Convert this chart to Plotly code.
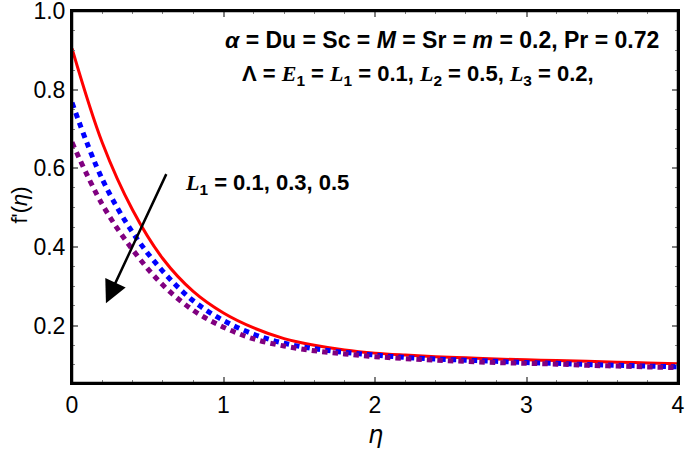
import plotly.graph_objects as go

eta = [0, 0.2, 0.4, 0.6, 0.8, 1.0, 1.2, 1.4, 1.6, 1.8, 2.0, 2.2, 2.4, 2.6, 2.8, 3.0, 3.2, 3.4, 3.6, 3.8, 4.0]
f_L1_01 = [0.905, 0.665, 0.494, 0.370, 0.287, 0.232, 0.194, 0.167, 0.150, 0.138, 0.130, 0.125, 0.121, 0.118, 0.115, 0.113, 0.111, 0.109, 0.107, 0.105, 0.103]
f_L1_03 = [0.767, 0.572, 0.437, 0.338, 0.263, 0.213, 0.178, 0.155, 0.141, 0.132, 0.125, 0.119, 0.115, 0.112, 0.109, 0.106, 0.104, 0.101, 0.099, 0.097, 0.095]
f_L1_05 = [0.666, 0.508, 0.393, 0.303, 0.239, 0.196, 0.166, 0.148, 0.136, 0.128, 0.121, 0.116, 0.112, 0.109, 0.106, 0.104, 0.102, 0.099, 0.097, 0.095, 0.093]

x_ticks = [0, 1, 2, 3, 4]
y_ticks = [0.2, 0.4, 0.6, 0.8, 1.0]
y_tick_labels = ["0.2", "0.4", "0.6", "0.8", "1.0"]

SERIF = "'Liberation Serif', 'DejaVu Serif', serif"
SANS = "Arial, 'Liberation Sans', sans-serif"

fig = go.Figure()
fig.add_trace(go.Scatter(x=eta, y=f_L1_01, mode="lines", line=dict(color="#FF0000", width=3, shape="spline"), showlegend=False))
fig.add_trace(go.Scatter(x=eta, y=f_L1_03, mode="lines", line=dict(color="#0000FF", width=5, dash="5.5px,5px", shape="spline"), showlegend=False))
fig.add_trace(go.Scatter(x=eta, y=f_L1_05, mode="lines", line=dict(color="#800080", width=5, dash="5.5px,5px", shape="spline"), showlegend=False))

def it(s):
    return f"<span style=\"font-family:{SERIF}\"><i>{s}</i></span>"

row1 = "<b><i>α</i> = Du = Sc = <i>M</i> = Sr = <i>m</i> = 0.2, Pr = 0.72</b>"
row2 = f"<b>Λ = {it('E')}<sub>1</sub> = {it('L')}<sub>1</sub> = 0.1, {it('L')}<sub>2</sub> = 0.5, {it('L')}<sub>3</sub> = 0.2,</b>"
lab = f"<b>{it('L')}<sub>1</sub> = 0.1, 0.3, 0.5</b>"

annotations = [
    dict(x=3.89, y=0.927, xref="x", yref="y", text=row1, showarrow=False, xanchor="right", yanchor="middle",
         font=dict(size=23, color="black", family=SANS)),
    dict(x=(240 - 72) / 151.6, y=0.837, xref="x", yref="y", text=row2, showarrow=False, xanchor="left", yanchor="middle",
         font=dict(size=22, color="black", family=SANS)),
    dict(x=0.73, y=0.561, xref="x", yref="y", text=lab, showarrow=False, xanchor="left", yanchor="middle",
         font=dict(size=22, color="black", family=SANS)),
    dict(x=0.224, y=0.257, ax=0.627, ay=0.589, xref="x", yref="y", axref="x", ayref="y", text="",
         showarrow=True, arrowhead=2, arrowsize=1.8, arrowwidth=2.5, arrowcolor="black"),
    dict(x=-0.0858, y=0.477, xref="paper", yref="paper", text="f'(<i>η</i>)", textangle=-90, showarrow=False,
         xanchor="center", yanchor="middle", font=dict(size=22, color="black", family=SANS)),
    dict(x=(375 - 72) / 606, y=(383 - 435) / 372, xref="paper", yref="paper", text="<i>η</i>", showarrow=False,
         xanchor="center", yanchor="middle", font=dict(size=24, color="black", family="'DejaVu Sans', sans-serif")),
]

fig.update_layout(
    width=685, height=452,
    margin=dict(l=72, r=7, t=11, b=69, autoexpand=False),
    plot_bgcolor="white", paper_bgcolor="white",
    annotations=annotations,
    font=dict(family=SANS, color="black"),
    shapes=[dict(type="rect", xref="paper", yref="paper", x0=0, x1=1, y0=0, y1=1,
                 line=dict(color="black", width=2.5), layer="above")],
)
fig.update_xaxes(
    range=[0, 4], tickvals=x_ticks, ticktext=[str(v) for v in x_ticks], automargin=False,
    showgrid=False, zeroline=False, showline=True, linecolor="black", linewidth=2, mirror="ticks",
    ticks="inside", ticklen=6, tickwidth=1.5, tickcolor="gray", ticklabelstandoff=0,
    ticklabeloverflow="allow",
    tickfont=dict(size=23, family=SANS, color="black"),
    minor=dict(dtick=0.2, ticks="inside", ticklen=3, tickcolor="gray", tickwidth=1.2, showgrid=False),
)
fig.update_yaxes(
    range=[0.054, 1.0001], tickvals=y_ticks, ticktext=y_tick_labels, automargin=False,
    showgrid=False, zeroline=False, showline=True, linecolor="black", linewidth=2, mirror="ticks",
    ticks="inside", ticklen=6, tickwidth=1.5, tickcolor="gray", ticklabelstandoff=0,
    ticklabeloverflow="allow",
    tickfont=dict(size=23, family=SANS, color="black"),
    minor=dict(dtick=0.05, tick0=0, ticks="inside", ticklen=3, tickcolor="gray", tickwidth=1.2, showgrid=False),
)

fig.write_html("out.html", config={"displayModeBar": False},
               post_script="document.body.style.margin='0';document.body.style.overflow='hidden';")
